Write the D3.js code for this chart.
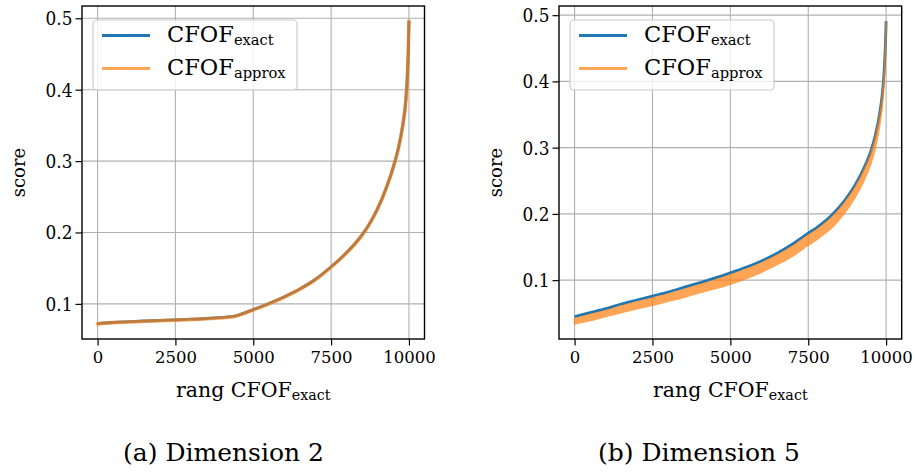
<!DOCTYPE html>
<html><head><meta charset="utf-8">
<script src="https://cdn.jsdelivr.net/npm/d3@7"></script>
<style>
body{margin:0;background:#fff}
svg{display:block}
text{font-family:"DejaVu Serif","Liberation Serif",serif;fill:#000}
</style>
</head><body>
<svg id="chart" width="915" height="475"></svg>
<script>
// ---- data ----
const xTicks = [0, 2500, 5000, 7500, 10000];
const yTicks = [0.1, 0.2, 0.3, 0.4, 0.5];
const seriesNames = ["exact", "approx"];
const captions = ["(a) Dimension 2", "(b) Dimension 5"];

// Dimension 2
const rank2 = [0,250,500,1000,1500,2000,2500,3000,3500,4000,4400,4700,5000,5500,6000,6500,7000,7500,7750,8000,8250,8500,8750,9000,9250,9500,9650,9800,9900,9950,9980,10000];
const exact2 = [0.0722,0.0733,0.0740,0.0750,0.0760,0.0768,0.0776,0.0785,0.0795,0.0810,0.0828,0.0870,0.0920,0.1005,0.1100,0.1210,0.1345,0.1520,0.1615,0.1720,0.1835,0.1970,0.2135,0.2340,0.2600,0.2920,0.3160,0.3500,0.3850,0.4200,0.4550,0.4960];
const approx2 = [0.0720,0.0730,0.0737,0.0746,0.0756,0.0764,0.0772,0.0781,0.0791,0.0806,0.0824,0.0866,0.0916,0.1001,0.1096,0.1206,0.1341,0.1516,0.1611,0.1716,0.1831,0.1966,0.2131,0.2336,0.2596,0.2916,0.3156,0.3496,0.3846,0.4196,0.4546,0.4960];

// Dimension 5
const rank5 = [0,500,1000,1500,2000,2500,3000,3500,4000,4500,5000,5500,6000,6500,7000,7500,7750,8000,8250,8500,8750,9000,9250,9500,9650,9800,9900,9950,9980,10000];
const exact5 = [0.045,0.051,0.057,0.064,0.070,0.076,0.082,0.089,0.096,0.103,0.111,0.1195,0.129,0.1405,0.1545,0.171,0.1785,0.1875,0.198,0.2105,0.2255,0.2435,0.2655,0.2935,0.318,0.354,0.392,0.428,0.460,0.491];
const approx5Lo = [0.034,0.039,0.045,0.051,0.057,0.062,0.068,0.074,0.081,0.087,0.094,0.1025,0.112,0.1235,0.1365,0.153,0.1605,0.1695,0.179,0.1915,0.2065,0.2245,0.2465,0.2745,0.299,0.336,0.375,0.415,0.451,0.487];
const approx5Hi = [0.0415,0.048,0.054,0.061,0.067,0.073,0.079,0.086,0.093,0.100,0.108,0.1165,0.126,0.1375,0.1515,0.168,0.1755,0.1845,0.195,0.2075,0.2225,0.2405,0.2625,0.2905,0.315,0.351,0.389,0.425,0.458,0.491];

const BLUE = "#1f77b4", ORANGE = "#ff7f0e", GRID = "#b0b0b0";

const svg = d3.select("#chart");

function tickLen(s) {
  let w = 0;
  for (const c of s) w += (c === ".") ? 5.9 : 10.5;
  return w;
}

function panel(opt) {
  const {left, right, top, bottom, rank, exact, lo, hi, scoreX, caption, captionX, bandStroke} = opt;
  const allY = exact.concat(lo, hi);
  const yMin = d3.min(allY), yMax = d3.max(allY);
  const yPad = (yMax - yMin) * 0.05;
  const xMin = 0, xMax = 10000, xPad = (xMax - xMin) * 0.05;
  const x = d3.scaleLinear().domain([xMin - xPad, xMax + xPad]).range([left, right]);
  const y = d3.scaleLinear().domain([yMin - yPad, yMax + yPad]).range([bottom, top]);
  const g = svg.append("g");

  // grid
  g.append("g").selectAll("line").data(xTicks).join("line")
    .attr("x1", d => x(d)).attr("x2", d => x(d)).attr("y1", top).attr("y2", bottom)
    .attr("stroke", GRID).attr("stroke-width", 1.1);
  g.append("g").selectAll("line").data(yTicks).join("line")
    .attr("y1", d => y(d)).attr("y2", d => y(d)).attr("x1", left).attr("x2", right)
    .attr("stroke", GRID).attr("stroke-width", 1.1);

  // exact line
  const pts = rank.map((r, i) => [r, exact[i]]);
  const line = d3.line().x(d => x(d[0])).y(d => y(d[1])).curve(d3.curveMonotoneX);
  g.append("path").attr("d", line(pts)).attr("fill", "none")
    .attr("stroke", BLUE).attr("stroke-width", 2.8).attr("stroke-linejoin", "round");

  // approx band/line
  const og = g.append("g").attr("opacity", 0.7);
  const band = rank.map((r, i) => ({r, lo: lo[i], hi: hi[i]}));
  const area = d3.area().x(d => x(d.r)).y0(d => y(d.lo)).y1(d => y(d.hi)).curve(d3.curveMonotoneX);
  og.append("path").attr("d", area(band)).attr("fill", ORANGE)
    .attr("stroke", ORANGE).attr("stroke-width", bandStroke).attr("stroke-linejoin", "round");

  // frame
  g.append("rect").attr("x", left).attr("y", top).attr("width", right - left).attr("height", bottom - top)
    .attr("fill", "none").attr("stroke", "#000").attr("stroke-width", 1.4);

  // x axis
  const xa = g.append("g").attr("transform", `translate(0,${bottom})`)
    .call(d3.axisBottom(x).tickValues(xTicks).tickSize(6.5).tickPadding(4).tickFormat(d3.format("d")));
  xa.select(".domain").remove();
  xa.selectAll("line").attr("stroke", "#000").attr("stroke-width", 1.2);
  xa.selectAll("text").attr("font-size", 17.5).attr("font-family", "DejaVu Serif").attr("fill", "#000")
    .attr("dy", "0.78em")
    .attr("textLength", function() { return tickLen(this.textContent); })
    .attr("lengthAdjust", "spacingAndGlyphs");

  // y axis
  const ya = g.append("g").attr("transform", `translate(${left},0)`)
    .call(d3.axisLeft(y).tickValues(yTicks).tickSize(6.5).tickPadding(3).tickFormat(d3.format(".1f")));
  ya.select(".domain").remove();
  ya.selectAll("line").attr("stroke", "#000").attr("stroke-width", 1.2);
  ya.selectAll("text").attr("font-size", 18).attr("font-family", "DejaVu Serif").attr("fill", "#000")
    .attr("dy", "0.36em")
    .attr("textLength", function() { return tickLen(this.textContent); })
    .attr("lengthAdjust", "spacingAndGlyphs");

  // axis labels
  const cx = (left + right) / 2;
  const xl = g.append("text").attr("x", cx).attr("y", 396.5).attr("text-anchor", "middle").attr("font-size", 20.5);
  xl.append("tspan").text("rang CFOF");
  xl.append("tspan").attr("font-size", 14.3).attr("dy", 3.5).text("exact");

  g.append("text").attr("transform", `translate(${scoreX},${(top + bottom) / 2}) rotate(-90)`)
    .attr("text-anchor", "middle").attr("font-size", 18).text("score");

  // legend
  const lx = left + 11, ly = top + 14;
  const leg = g.append("g");
  leg.append("rect").attr("x", lx).attr("y", ly).attr("width", 204).attr("height", 70).attr("rx", 4)
    .attr("fill", "#fff").attr("fill-opacity", 0.8).attr("stroke", "#cccccc").attr("stroke-width", 1.2);
  const items = [{name: seriesNames[0], color: BLUE, op: 1}, {name: seriesNames[1], color: ORANGE, op: 0.7}];
  items.forEach((it, i) => {
    const yy = ly + 15.5 + i * 33;
    leg.append("line").attr("x1", lx + 9).attr("x2", lx + 57).attr("y1", yy).attr("y2", yy)
      .attr("stroke", it.color).attr("stroke-opacity", it.op).attr("stroke-width", 3);
    const t = leg.append("text").attr("x", lx + 74).attr("y", yy + 6).attr("font-size", 22.5);
    t.append("tspan").text("CFOF");
    t.append("tspan").attr("font-size", 14.7).attr("dy", 3).text(it.name);
  });

  // caption
  g.append("text").attr("x", captionX).attr("y", 461).attr("text-anchor", "middle")
    .attr("font-size", 25).text(caption);
}

panel({left: 82, right: 424.5, top: 6, bottom: 339, rank: rank2, exact: exact2, lo: approx2, hi: approx2,
  scoreX: 25, caption: captions[0], captionX: 223.5, bandStroke: 3.6});
panel({left: 559, right: 901.7, top: 6, bottom: 339, rank: rank5, exact: exact5, lo: approx5Lo, hi: approx5Hi,
  scoreX: 502, caption: captions[1], captionX: 699, bandStroke: 1.6});
</script>
</body></html>
